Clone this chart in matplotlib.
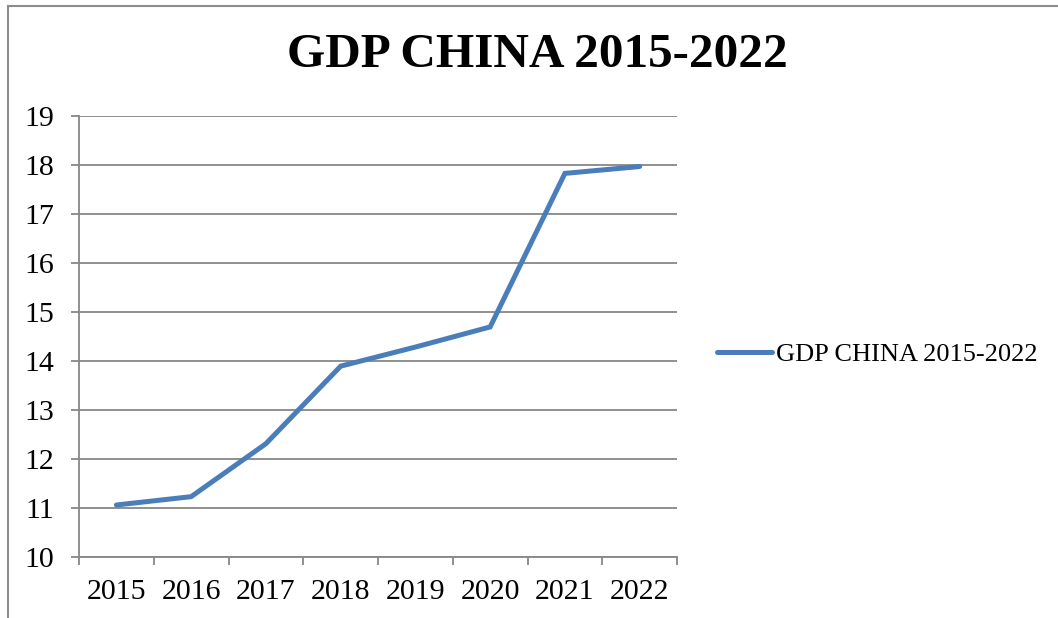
import matplotlib.pyplot as plt
from matplotlib.lines import Line2D

# GDP of China, trillion USD
years = ['2015', '2016', '2017', '2018', '2019', '2020', '2021', '2022']
gdp = [11.06, 11.23, 12.31, 13.89, 14.28, 14.69, 17.82, 17.96]
series_name = 'GDP CHINA 2015-2022'

plt.rcParams['font.family'] = ['Liberation Serif', 'DejaVu Serif']

fig = plt.figure(figsize=(10.58, 6.18), dpi=100)
ax = fig.add_axes([0.0747, 0.0987, 0.5652, 0.7144])

x = list(range(len(years)))
ax.plot(x, gdp, color='#4A7EBB', linewidth=3.6, solid_capstyle='round',
        solid_joinstyle='miter', label=series_name, zorder=3)

ax.set_xlim(-0.5, len(years) - 0.5)
ax.set_ylim(10, 19)
ax.set_yticks(range(10, 20))
ax.yaxis.grid(True, color='#878787', linewidth=1.3)
ax.set_axisbelow(True)

# category ticks sit between the labels
ax.set_xticks([i - 0.5 for i in range(len(years) + 1)])
ax.set_xticklabels([])
ax.set_xticks(x, minor=True)
ax.set_xticklabels(years, minor=True)
ax.tick_params(axis='x', which='minor', length=0, pad=16, labelsize=21.5)
ax.tick_params(axis='x', which='major', length=6, width=1.3, color='#878787')
ax.tick_params(axis='y', length=6, width=1.3, color='#878787', pad=12, labelsize=21.5)

for side in ['top', 'right']:
    ax.spines[side].set_visible(False)
for side in ['left', 'bottom']:
    ax.spines[side].set_color('#878787')
    ax.spines[side].set_linewidth(1.3)

fig.suptitle('GDP CHINA 2015-2022', x=0.508, y=0.911, va='center',
             fontsize=35.5, fontweight='bold')

fig.legend(loc='center left', bbox_to_anchor=(0.655, 0.427), frameon=False,
           fontsize=19, handlelength=2.1, handletextpad=0.15)

# chart frame (only top and left edges are visible in the crop)
fig.add_artist(Line2D([0.0078, 0.0078], [0, 0.991], transform=fig.transFigure,
                      color='#8c8c8c', linewidth=1.5))
fig.add_artist(Line2D([0.0078, 1], [0.991, 0.991], transform=fig.transFigure,
                      color='#8c8c8c', linewidth=1.5))

fig.savefig('out.png', dpi=100)
